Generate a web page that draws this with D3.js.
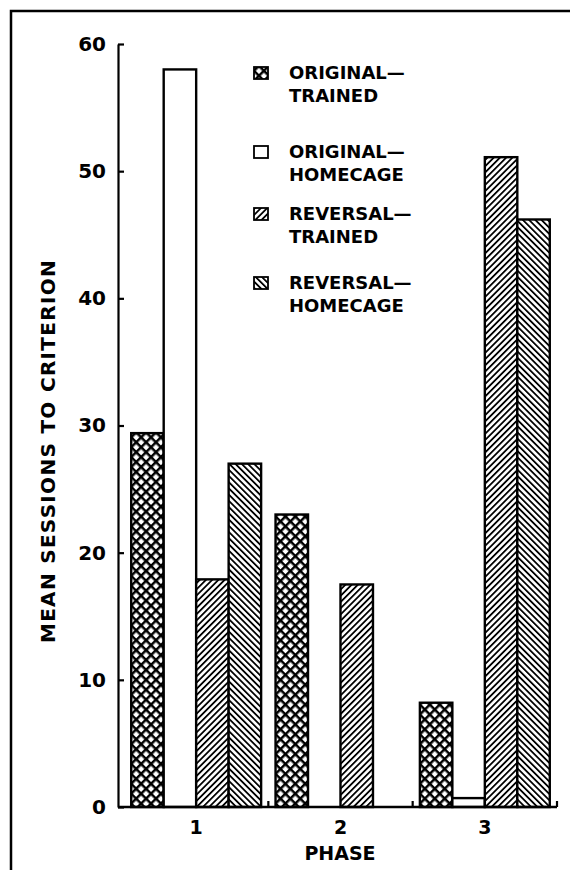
<!DOCTYPE html>
<html>
<head>
<meta charset="utf-8">
<script src="https://cdn.jsdelivr.net/npm/d3@7"></script>
<style>
  body { margin: 0; background: #fff; }
  text { font-family: "DejaVu Sans", "Liberation Sans", sans-serif; font-weight: bold; fill: #000; }
</style>
</head>
<body>
<svg id="chart"></svg>
<script>
// Data
const phases = ["1", "2", "3"];
const seriesNames = ["ORIGINAL-TRAINED", "ORIGINAL-HOMECAGE", "REVERSAL-TRAINED", "REVERSAL-HOMECAGE"];
const originalTrained = [29.4, 23.0, 8.2];
const originalHomecage = [58.0, 0, 0.7];
const reversalTrained = [17.9, 17.5, 51.1];
const reversalHomecage = [27.0, 0, 46.2];
const yTicks = [0, 10, 20, 30, 40, 50, 60];
const legendLines = [["ORIGINAL\u2014", "TRAINED"], ["ORIGINAL\u2014", "HOMECAGE"],
                     ["REVERSAL\u2014", "TRAINED"], ["REVERSAL\u2014", "HOMECAGE"]];

const seriesValues = [originalTrained, originalHomecage, reversalTrained, reversalHomecage];
const fills = ["url(#cross)", "#fff", "url(#hatchUp)", "url(#hatchDown)"];

const width = 570;
const height = 870;

const svg = d3.select("#chart")
  .attr("width", width)
  .attr("height", height);

// Patterns
const defs = svg.append("defs");

const cross = defs.append("pattern")
  .attr("id", "cross")
  .attr("patternUnits", "userSpaceOnUse")
  .attr("width", 7).attr("height", 7)
  .attr("patternTransform", "rotate(45)");
cross.append("rect").attr("width", 7).attr("height", 7).attr("fill", "#fff");
cross.append("line").attr("x1", 0).attr("y1", 0).attr("x2", 7).attr("y2", 0)
  .attr("stroke", "#000").attr("stroke-width", 5);
cross.append("line").attr("x1", 0).attr("y1", 0).attr("x2", 0).attr("y2", 7)
  .attr("stroke", "#000").attr("stroke-width", 5);

function hatch(id, angle) {
  const p = defs.append("pattern")
    .attr("id", id)
    .attr("patternUnits", "userSpaceOnUse")
    .attr("width", 4.4).attr("height", 4.4)
    .attr("patternTransform", "rotate(" + angle + ")");
  p.append("rect").attr("width", 4.4).attr("height", 4.4).attr("fill", "#fff");
  p.append("line").attr("x1", 0).attr("y1", 0).attr("x2", 0).attr("y2", 4.4)
    .attr("stroke", "#000").attr("stroke-width", 3.6);
}
hatch("hatchUp", 45);
hatch("hatchDown", -45);

// Frame
svg.append("path")
  .attr("d", "M11,870 V11 H570")
  .attr("fill", "none")
  .attr("stroke", "#000")
  .attr("stroke-width", 2.5);

// Scales
const x0 = d3.scaleBand()
  .domain(phases)
  .range([124, 557])
  .paddingInner(0.1)
  .paddingOuter(0.05);

const x1 = d3.scaleBand()
  .domain(d3.range(seriesNames.length))
  .range([0, x0.bandwidth()]);

const y = d3.scaleLinear()
  .domain([0, 60])
  .range([807, 44]);

// Bars
const groups = svg.selectAll("g.phase")
  .data(phases)
  .enter()
  .append("g")
  .attr("class", "phase")
  .attr("transform", d => "translate(" + x0(d) + ",0)");

groups.selectAll("rect")
  .data((d, i) => seriesValues.map((s, k) => ({k: k, v: s[i]})))
  .enter()
  .filter(d => d.v > 0)
  .append("rect")
  .attr("x", d => x1(d.k))
  .attr("y", d => y(d.v))
  .attr("width", x1.bandwidth())
  .attr("height", d => y(0) - y(d.v))
  .attr("fill", d => fills[d.k])
  .attr("stroke", "#000")
  .attr("stroke-width", 2.4);

// Y axis
const yAxis = d3.axisLeft(y)
  .tickValues(yTicks)
  .tickSizeInner(-6)
  .tickSizeOuter(0)
  .tickPadding(12);

const gy = svg.append("g")
  .attr("transform", "translate(118,0)")
  .call(yAxis);
gy.select(".domain").attr("stroke-width", 2.2);
gy.selectAll(".tick line").attr("stroke-width", 2.2);
gy.selectAll(".tick text")
  .style("font-size", "20px")
  .style("font-family", "DejaVu Sans")
  .style("font-weight", "bold");

// X axis: baseline with upward ticks between phases
const xEnd = x0.range()[1];
const gapTicks = phases.slice(1).map(p => x0(p) - x0.step() * x0.paddingInner() / 2).concat([xEnd]);
svg.append("line")
  .attr("x1", 118).attr("x2", xEnd)
  .attr("y1", y(0)).attr("y2", y(0))
  .attr("stroke", "#000").attr("stroke-width", 2.4);
svg.selectAll("line.xtick")
  .data(gapTicks)
  .enter()
  .append("line")
  .attr("class", "xtick")
  .attr("x1", d => d).attr("x2", d => d)
  .attr("y1", y(0)).attr("y2", y(0) - 6)
  .attr("stroke", "#000").attr("stroke-width", 2.2);

svg.selectAll("text.xlabel")
  .data(phases)
  .enter()
  .append("text")
  .attr("class", "xlabel")
  .attr("x", d => x0(d) + x0.bandwidth() / 2)
  .attr("y", 834)
  .attr("text-anchor", "middle")
  .style("font-size", "19px")
  .text(d => d);

svg.append("text")
  .attr("x", 340)
  .attr("y", 860)
  .attr("text-anchor", "middle")
  .style("font-size", "19px")
  .text("PHASE");

svg.append("text")
  .attr("transform", "translate(55,451) rotate(-90)")
  .attr("text-anchor", "middle")
  .style("font-size", "20px")
  .style("letter-spacing", "1.3px")
  .text("MEAN SESSIONS TO CRITERION");

// Legend
const legendY = [79, 158, 220, 289];
const legend = svg.selectAll("g.legend")
  .data(legendLines)
  .enter()
  .append("g")
  .attr("class", "legend")
  .attr("transform", (d, i) => "translate(254," + legendY[i] + ")");

legend.append("rect")
  .attr("x", 0).attr("y", -12)
  .attr("width", 14).attr("height", 12)
  .attr("fill", (d, i) => fills[i])
  .attr("stroke", "#000")
  .attr("stroke-width", 1.8);

legend.append("text")
  .attr("x", 35)
  .style("font-size", "18px")
  .text(d => d[0]);

legend.append("text")
  .attr("x", 35)
  .attr("y", 23)
  .style("font-size", "18px")
  .text(d => d[1]);
</script>
</body>
</html>
